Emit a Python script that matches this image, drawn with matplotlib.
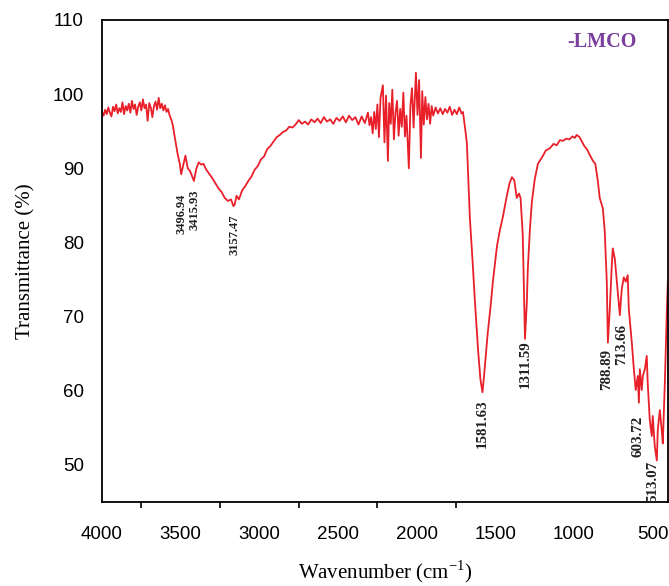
import matplotlib.pyplot as plt
import numpy as np

# FTIR spectrum of LMCO
wavenumber = [
    4000, 3990, 3980, 3970, 3960, 3950, 3940, 3930, 3920, 3910,
    3900, 3890, 3880, 3870, 3860, 3850, 3840, 3830, 3820, 3810,
    3800, 3790, 3780, 3770, 3760, 3750, 3740, 3730, 3720, 3710,
    3700, 3690, 3680, 3670, 3660, 3650, 3640, 3630, 3620, 3610,
    3600, 3590, 3580, 3570, 3560, 3550, 3540, 3520, 3505, 3497,
    3480, 3470, 3455, 3440, 3416, 3400, 3385, 3370, 3355, 3340,
    3320, 3300, 3280, 3260, 3240, 3220, 3200, 3180, 3165, 3157,
    3145, 3130, 3110, 3090, 3070, 3050, 3030, 3010, 2990, 2970,
    2950, 2930, 2910, 2890, 2870, 2850, 2830, 2810, 2790, 2770,
    2750, 2730, 2710, 2690, 2670, 2650, 2630, 2610, 2590, 2570,
    2550, 2530, 2510, 2490, 2470, 2450, 2430, 2410, 2390, 2370,
    2350, 2330, 2310, 2300, 2290, 2280, 2270, 2260, 2250, 2240,
    2230, 2215, 2205, 2195, 2183, 2175, 2165, 2155, 2145, 2135,
    2125, 2115, 2105, 2095, 2085, 2075, 2065, 2050, 2040, 2030,
    2020, 2005, 1995, 1985, 1973, 1965, 1955, 1945, 1935, 1925,
    1915, 1905, 1895, 1880, 1865, 1850, 1835, 1820, 1805, 1790,
    1775, 1760, 1745, 1730, 1715, 1706, 1690, 1681, 1662, 1645,
    1630, 1610, 1595, 1582, 1570, 1550, 1530, 1516, 1490, 1470,
    1452, 1430, 1410, 1395, 1380, 1364, 1350, 1340, 1326, 1318,
    1312, 1300, 1294, 1280, 1268, 1250, 1230, 1200, 1180, 1154,
    1130, 1110, 1090, 1071, 1050, 1030, 1010, 995, 983, 965,
    950, 935, 919, 900, 880, 865, 849, 837, 817, 805,
    792, 785, 773, 760, 754, 741, 728, 709, 697, 684,
    671, 659, 652, 633, 620, 608, 595, 588, 582, 570,
    563, 550, 538, 532, 519, 506, 500, 487, 474, 468,
    455, 443, 436, 423, 411, 404,
]
transmittance = [
    97.6, 97.1, 97.9, 97.3, 98.2, 97.5, 97.0, 98.3, 97.7, 98.6,
    97.4, 98.1, 97.6, 98.9, 97.3, 98.4, 97.8, 98.7, 97.5, 99.1,
    98.0, 98.6, 97.2, 98.3, 98.9, 97.8, 99.3, 98.1, 98.6, 96.4,
    98.8, 98.2, 96.9, 98.4, 99.0, 97.9, 99.5, 98.1, 98.7, 97.8,
    98.5, 97.6, 98.0, 97.1, 96.6, 95.8, 94.5, 92.0, 90.5, 89.2,
    90.8, 91.7, 90.0, 89.6, 88.3, 90.0, 90.8, 90.5, 90.6, 89.9,
    89.3, 88.7, 88.0, 87.3, 86.8, 86.0, 85.6, 85.8, 84.9, 85.1,
    86.3, 85.8, 87.0, 87.6, 88.3, 88.9, 89.8, 90.3, 91.2, 91.6,
    92.6, 93.0, 93.6, 94.2, 94.5, 94.9, 95.1, 95.6, 95.5, 95.9,
    96.5, 96.0, 96.3, 95.9, 96.6, 96.2, 96.7, 96.1, 96.9, 96.3,
    96.6, 96.0, 96.8, 96.4, 97.0, 96.2, 97.1, 96.5, 96.9, 95.9,
    97.0, 96.1, 97.5, 95.8, 96.9, 94.7, 97.6, 95.3, 98.6, 94.2,
    99.5, 101.2, 93.5, 99.8, 91.0, 98.8, 96.0, 100.6, 93.9, 97.5,
    99.1, 94.4, 98.0, 95.6, 100.2, 94.3, 97.1, 90.0, 98.5, 100.8,
    95.5, 102.9, 97.2, 101.9, 91.4, 100.4, 95.9, 99.6, 96.6, 98.7,
    96.0, 98.4, 97.1, 98.2, 97.4, 98.1, 97.3, 98.0, 97.5, 98.3,
    97.2, 97.9, 97.3, 98.2, 97.4, 97.6, 95.0, 93.3, 83.2, 77.5,
    72.0, 65.5, 61.5, 59.8, 62.5, 67.5, 71.5, 74.7, 79.5, 81.8,
    83.5, 86.0, 88.0, 88.8, 88.4, 86.0, 86.6, 86.0, 81.0, 73.0,
    67.0, 72.0, 76.4, 82.0, 85.5, 88.5, 90.6, 91.6, 92.4, 92.7,
    93.3, 93.1, 93.8, 93.7, 94.0, 93.9, 94.3, 94.1, 94.5, 94.2,
    93.6, 93.0, 92.6, 91.8, 91.0, 90.6, 88.3, 86.0, 84.6, 81.5,
    74.7, 66.5, 71.0, 77.0, 79.2, 77.8, 74.7, 70.2, 73.7, 75.3,
    74.7, 75.6, 71.0, 66.5, 62.9, 60.1, 62.0, 58.4, 62.9, 60.1,
    62.0, 62.9, 64.7, 61.1, 56.1, 53.9, 56.6, 52.5, 50.6, 54.7,
    57.4, 54.7, 52.9, 61.1, 70.2, 74.7,
]

# peak labels: text, x position, y of the label top
peak_text = ['3496.94', '3415.93', '3157.47', '1581.63', '1311.59',
             '788.89', '713.66', '603.72', '513.07']
peak_wn = [3497, 3410, 3157, 1583, 1308, 790, 696, 595, 500]
peak_top = [86.6, 87.2, 83.8, 58.8, 66.8, 65.6, 69.0, 56.6, 50.6]

xticks = [4000, 3500, 3000, 2500, 2000, 1500, 1000, 500]
minor_xticks = [3750, 3250, 2750, 2250, 1750]
yticks = [50, 60, 70, 80, 90, 100, 110]

serif = 'Liberation Serif'
plt.rcParams['mathtext.fontset'] = 'custom'
plt.rcParams['mathtext.rm'] = serif

fig = plt.figure(figsize=(6.69, 5.86), dpi=100)
ax = fig.add_axes([0.1525, 0.1433, 0.846, 0.8226])

ax.plot(wavenumber, transmittance, color='#e8202a', lw=1.3)

ax.set_xlim(4000, 403)
ax.set_ylim(45, 110)
ax.set_xticks(xticks)
ax.set_xticks(minor_xticks, minor=True)
ax.set_yticks(yticks)
ax.tick_params(axis='x', which='major', length=0, pad=17, labelsize=13.5)
ax.tick_params(axis='x', which='minor', length=4, width=1.2, direction='out')
ax.tick_params(axis='y', length=0, pad=13, labelsize=13.5)
for lab in ax.get_xticklabels() + ax.get_yticklabels():
    lab.set_fontfamily('Liberation Sans')
for s in ax.spines.values():
    s.set_linewidth(1.3)

ax.set_xlabel('Wavenumber (cm$^{\\mathrm{-1}}$)', fontsize=15, family=serif, labelpad=11)
ax.set_ylabel('Transmittance (%)', fontsize=15, family=serif, labelpad=12)

# the labels on the left half are printed smaller in the original
for t, x, y in zip(peak_text, peak_wn, peak_top):
    size = 9 if x > 3000 else 10.8
    ax.text(x, y, t, rotation=90, ha='center', va='top', fontsize=size,
            family=serif, fontweight='bold', color='#222222')

ax.text(0.945, 0.955, '-LMCO', transform=ax.transAxes, ha='right', va='center',
        fontsize=14.5, family=serif, fontweight='bold', color='#7b3f9e')

plt.savefig('out.png', dpi=100)
